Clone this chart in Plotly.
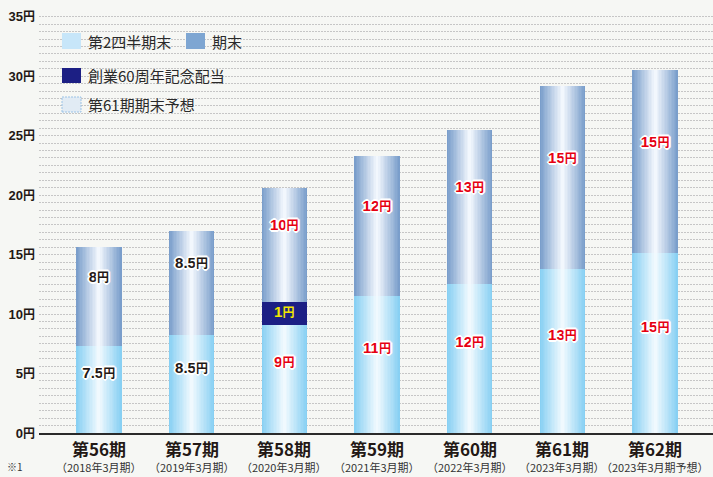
import plotly.graph_objects as go

# ---------------- data ----------------
periods = ["第56期", "第57期", "第58期", "第59期", "第60期", "第61期", "第62期"]
fiscal = ["（2018年3月期）", "（2019年3月期）", "（2020年3月期）", "（2021年3月期）",
          "（2022年3月期）", "（2023年3月期）", "（2023年3月期予想）"]
# bar segment heights as drawn in the picture (円)
q2_height = [7.3, 8.2, 9.1, 11.55, 12.5, 13.75, 15.1]
commem_height = [0, 0, 1.95, 0, 0, 0, 0]
end_height = [8.3, 8.77, 9.55, 11.73, 13.0, 15.42, 15.39]
# dividend labels (円)
q2_labels = ["7.5", "8.5", "9", "11", "12", "13", "15"]
end_labels = ["8", "8.5", "10", "12", "13", "15", "15"]
commem_labels = ["", "", "1", "", "", "", ""]
label_colors = ["#231815", "#231815", "#e60012", "#e60012", "#e60012", "#e60012", "#e60012"]
ytick_vals = [0, 5, 10, 15, 20, 25, 30, 35]
legend_items = ["第2四半期末", "期末", "創業60周年記念配当", "第61期期末予想"]

# ---------------- style ----------------
FONT = "Noto Sans CJK JP"
NUMFONT = "Liberation Sans, Noto Sans CJK JP"
BG = "#f6f7f4"
W, H = 713, 477
ML, MR, MT, MB = 39, 0, 12, 44
PW, PH = W - ML - MR, H - MT - MB
BAR_W = 0.49
N_LAYERS = 16
Q2_EDGE, Q2_CENTER = (0x88, 0xd0, 0xf3), (0xf0, 0xf9, 0xfe)
END_EDGE, END_CENTER = (0x7a, 0x9e, 0xcb), (0xf2, 0xf7, 0xfd)
NAVY = "#1c1f84"


def mix(c1, c2, t):
    return "rgb(%d,%d,%d)" % tuple(round(a + (b - a) * t) for a, b in zip(c1, c2))


def px_x(px):
    return (px - ML) / PW


def px_y(py):
    return (H - MB - py) / PH


fig = go.Figure()

end_base = [a + b for a, b in zip(q2_height, commem_height)]

# gradient bars via overlaid, narrowing layers
for k in range(N_LAYERS):
    t = k / (N_LAYERS - 1)
    w = BAR_W * (1 - k / N_LAYERS)
    fig.add_trace(go.Bar(x=periods, y=q2_height, base=[0] * len(periods), width=w,
                         marker=dict(color=mix(Q2_EDGE, Q2_CENTER, t), line=dict(width=0)),
                         hoverinfo="skip", showlegend=False))
    fig.add_trace(go.Bar(x=periods, y=end_height, base=end_base, width=w,
                         marker=dict(color=mix(END_EDGE, END_CENTER, t), line=dict(width=0)),
                         hoverinfo="skip", showlegend=False))

fig.add_trace(go.Bar(x=periods, y=commem_height, base=q2_height, width=BAR_W,
                     marker=dict(color=NAVY, line=dict(width=0)),
                     hoverinfo="skip", showlegend=False))

halo = ("1px 1px 0 #fff, -1px -1px 0 #fff, 1px -1px 0 #fff, -1px 1px 0 #fff, "
        "2px 0 0 #fff, -2px 0 0 #fff, 0 2px 0 #fff, 0 -2px 0 #fff")


def lab(v):
    return "%s<span style='font-size:12px'>円</span>" % v


q2_label_y = [h / 2 + 1.3 for h in q2_height]
end_label_y = [b + h / 2 + 1.6 for b, h in zip(end_base, end_height)]
fig.add_trace(go.Scatter(x=periods, y=q2_label_y, mode="text", text=[lab(v) for v in q2_labels],
                         textfont=dict(family=NUMFONT, size=15, weight="bold", color=label_colors, shadow=halo),
                         hoverinfo="skip", showlegend=False))
fig.add_trace(go.Scatter(x=periods, y=end_label_y, mode="text", text=[lab(v) for v in end_labels],
                         textfont=dict(family=NUMFONT, size=15, weight="bold", color=label_colors, shadow=halo),
                         hoverinfo="skip", showlegend=False))
cx, cy, ct = [], [], []
for p, q, c, l in zip(periods, q2_height, commem_height, commem_labels):
    if l:
        cx.append(p); cy.append(q + c / 2); ct.append(lab(l))
fig.add_trace(go.Scatter(x=cx, y=cy, mode="text", text=ct,
                         textfont=dict(family=NUMFONT, size=15, weight="bold", color="#f2e600"),
                         hoverinfo="skip", showlegend=False))

annotations = []
for p, f in zip(periods, fiscal):
    annotations.append(dict(x=p, y=0, xref="x", yref="paper", yanchor="middle", yshift=-15,
                            text="<b>%s</b>" % p, showarrow=False,
                            font=dict(family=FONT, size=17, color="#231815")))
    annotations.append(dict(x=p, y=0, xref="x", yref="paper", yanchor="middle", yshift=-33.5,
                            text=f, showarrow=False,
                            font=dict(family=FONT, size=11, color="#333333")))
annotations.append(dict(x=px_x(5), y=px_y(457), xref="paper", yref="paper", xanchor="left",
                        yanchor="top", text="※1", showarrow=False,
                        font=dict(family=FONT, size=10, color="#333333")))

# legend (drawn manually)
shapes = []
legend_boxes = [
    (62, 33, 81, 49, "#c7e6f9", None, 86, 41),
    (186, 33, 205, 49, "#7ea6d2", None, 210, 41),
    (62, 68, 81, 83, NAVY, None, 86, 75),
    (62, 97, 81, 112, "#e1ebf4", "#9cc3e6", 86, 105),
]
for (x0, y0, x1, y1, fill, dash_col, tx, ty), name in zip(legend_boxes, legend_items):
    line = dict(width=0) if dash_col is None else dict(width=1, color=dash_col, dash="2px,1px")
    shapes.append(dict(type="rect", xref="paper", yref="paper", x0=px_x(x0), x1=px_x(x1),
                       y0=px_y(y1), y1=px_y(y0), fillcolor=fill, line=line, layer="above"))
    annotations.append(dict(x=px_x(tx), y=px_y(ty), xref="paper", yref="paper", xanchor="left",
                            yanchor="middle", text=name, showarrow=False,
                            font=dict(family=FONT, size=15, color="#2a2a2a")))

fig.update_layout(
    width=W, height=H,
    margin=dict(l=ML, r=MR, t=MT, b=MB, pad=0),
    paper_bgcolor=BG, plot_bgcolor=BG,
    barmode="overlay", bargap=0,
    showlegend=False,
    annotations=annotations, shapes=shapes,
    xaxis=dict(type="category", range=[-0.645, 6.624], showticklabels=False, showgrid=False,
               zeroline=False, showline=True, linecolor="#2a2a2a", linewidth=2, ticks="", fixedrange=True),
    yaxis=dict(range=[0, 35.4], tickvals=ytick_vals,
               ticktext=["%d<span style='font-size:12px'>円</span>" % v for v in ytick_vals],
               tickfont=dict(family=NUMFONT, size=13, weight="bold", color="#231815"),
               ticks="", ticklabelstandoff=3,
               showgrid=True, gridcolor="#c6c6c6", gridwidth=1, griddash="2px,1px",
               minor=dict(dtick=0.625, showgrid=True, gridcolor="#c6c6c6", gridwidth=1, griddash="2px,1px"),
               zeroline=False, showline=False, fixedrange=True),
)

fig.write_html("out.html", config={"displayModeBar": False},
               post_script="document.body.style.margin='0';document.body.style.overflow='hidden';")
